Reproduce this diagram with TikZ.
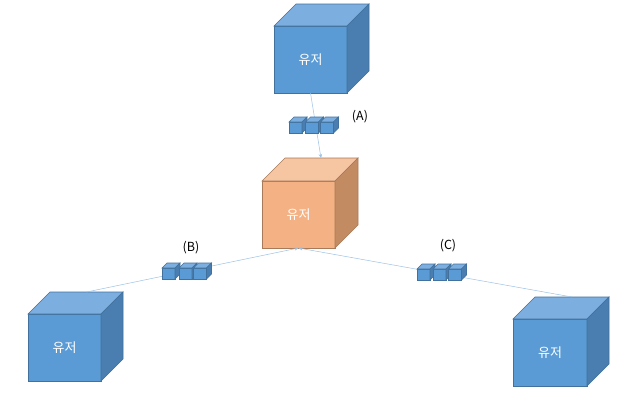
\documentclass[tikz,border=0pt]{standalone}
\usepackage{fontspec}
\setmainfont{Noto Sans CJK KR}
\usetikzlibrary{arrows.meta,calc}
\definecolor{usrfront}{HTML}{5B9BD5}
\definecolor{usrtop}{HTML}{7DAEE0}
\definecolor{usrside}{HTML}{4A7DB0}
\definecolor{usredge}{HTML}{41719C}
\definecolor{srvfront}{HTML}{F4B183}
\definecolor{srvtop}{HTML}{F6C5A2}
\definecolor{srvside}{HTML}{C38B62}
\definecolor{srvedge}{HTML}{A87A5A}
\definecolor{link}{HTML}{9DC3E6}
% top and side faces of a box node: name, depth, top fill, side fill, edge
\newcommand{\boxfaces}[5]{%
\filldraw[fill=#3,draw=#5] (#1.north west) -- ([shift={(#2,-#2)}]#1.north west) -- ([shift={(#2,-#2)}]#1.north east) -- (#1.north east) -- cycle;
\filldraw[fill=#4,draw=#5] (#1.north east) -- ([shift={(#2,-#2)}]#1.north east) -- ([shift={(#2,-#2)}]#1.south east) -- (#1.south east) -- cycle;}

\begin{document}
\begin{tikzpicture}[x=1pt,y=-1pt,line width=0.6pt,
  font=\fontsize{12.5}{14}\selectfont,
  usr/.style={draw=usredge,fill=usrfront,text=white,font=\fontsize{13}{15}\selectfont,minimum width=73pt,minimum height=67pt,outer sep=0pt,inner sep=0pt},
  srv/.style={usr,draw=srvedge,fill=srvfront},
  pkt/.style={draw=usredge,fill=usrfront,minimum width=13pt,minimum height=11pt,outer sep=0pt,inner sep=0pt},
  link/.style={draw=link,line width=0.5pt,-{Stealth[length=4pt,width=3.5pt]}}]
\useasboundingbox (0,0) rectangle (636,416);
\fill[white] (0,0) rectangle (636,416);

% users and server
\node[usr] (usrA) at (310.5,59.5) {유저};
\node[srv] (srv) at (298.5,214.5) {유저};
\node[usr] (usrB) at (64.5,347.5) {유저};
\node[usr,minimum width=74pt] (usrC) at (550,352.5) {유저};
\boxfaces{usrA}{22}{usrtop}{usrside}{usredge}
\boxfaces{srv}{23}{srvtop}{srvside}{srvedge}
\boxfaces{usrB}{22}{usrtop}{usrside}{usredge}
\boxfaces{usrC}{22}{usrtop}{usrside}{usredge}

\coordinate (srvtop) at ($(srv.north)+(22.5,-23)$);
\coordinate (usrBtop) at ($(usrB.north)+(22,-22)$);
\coordinate (usrCtop) at ($(usrC.north)+(22,-22)$);

% connectors
\draw[link] (usrA.south) -- (srvtop);
\draw[link] (usrBtop) -- (srv.south);
\draw[link] (usrCtop) -- (srv.south);

% packets on the links
\foreach \n/\x/\y in {a1/295.5/127.5,a2/312/127.5,a3/327/127.5,
                      b1/168.5/273.5,b2/185.5/273.5,b3/200/273.5,
                      c1/423.5/274.5,c2/439.5/274.5,c3/455/274.5}{
  \node[pkt] (\n) at (\x,\y) {};
  \boxfaces{\n}{5}{usrtop}{usrside}{usredge}
}

\node (labA) at (360,117) {(A)};
\node (labB) at (191,248) {(B)};
\node (labC) at (448,246) {(C)};
\end{tikzpicture}
\end{document}
